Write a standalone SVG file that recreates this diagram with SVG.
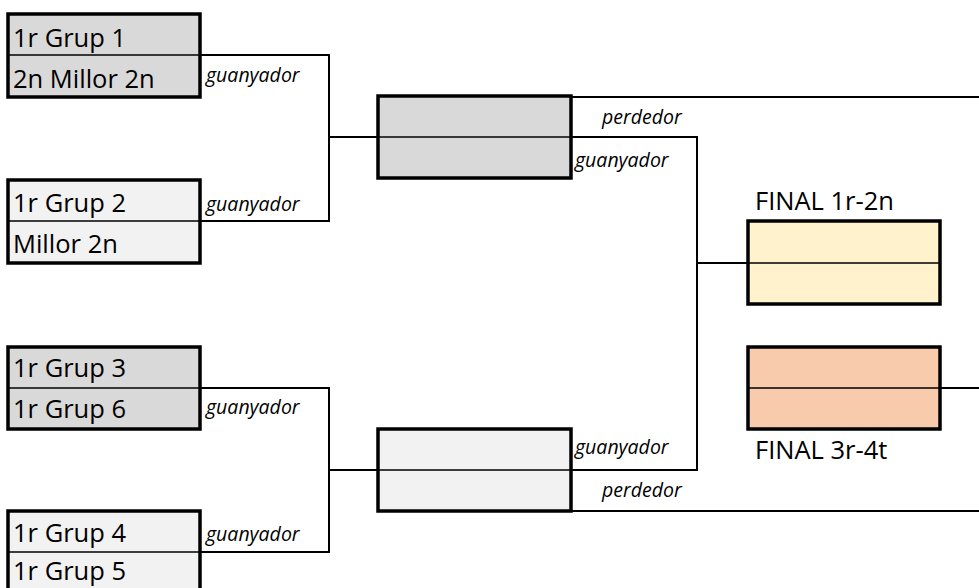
<svg xmlns="http://www.w3.org/2000/svg" width="979" height="588" viewBox="0 0 979 588">
<style>
.box{stroke:#000;stroke-width:3.5}
.div{stroke:#000;stroke-width:1.5}
.g1{fill:#D9D9D9}.g2{fill:#F2F2F2}.y{fill:#FFF2CC}.o{fill:#F8CBAD}
.lbl{font-family:"Open Sans","Liberation Sans",sans-serif;font-size:25.5px;fill:#000}
.it{font-family:"Open Sans","Liberation Sans",sans-serif;font-size:19.5px;font-style:italic;fill:#000}
.conn{fill:none;stroke:#000;stroke-width:2}
</style>
<rect width="979" height="588" fill="#fff"/>
<g id="connectors">
<path class="conn" d="M200,55H329V221H200"/>
<path class="conn" d="M329,137H378"/>
<path class="conn" d="M571,137H697V470H571"/>
<path class="conn" d="M571,97H979"/>
<path class="conn" d="M697,263H748"/>
<path class="conn" d="M940,388H979"/>
<path class="conn" d="M200,388H329V552H200"/>
<path class="conn" d="M329,470H378"/>
<path class="conn" d="M571,511H979"/>
<text class="it" x="206" y="82">guanyador</text>
<text class="it" x="206" y="211">guanyador</text>
<text class="it" x="206" y="414">guanyador</text>
<text class="it" x="206" y="541">guanyador</text>
<text class="it" x="602" y="124">perdedor</text>
<text class="it" x="575" y="167">guanyador</text>
<text class="it" x="575" y="454">guanyador</text>
<text class="it" x="602" y="497">perdedor</text>
</g>
<g id="m1">
<rect class="box g1" x="8" y="14" width="192" height="83"/>
<line class="div" x1="8" y1="55" x2="200" y2="55"/>
<text class="lbl" x="13" y="47">1r Grup 1</text>
<text class="lbl" x="13" y="88">2n Millor 2n</text>
</g>
<g id="m2">
<rect class="box g2" x="8" y="180" width="192" height="83"/>
<line class="div" x1="8" y1="221" x2="200" y2="221"/>
<text class="lbl" x="13" y="212">1r Grup 2</text>
<text class="lbl" x="13" y="253">Millor 2n</text>
</g>
<g id="m3">
<rect class="box g1" x="8" y="347" width="192" height="82"/>
<line class="div" x1="8" y1="388" x2="200" y2="388"/>
<text class="lbl" x="13" y="377">1r Grup 3</text>
<text class="lbl" x="13" y="418">1r Grup 6</text>
</g>
<g id="m4">
<rect class="box g2" x="8" y="511" width="192" height="83"/>
<line class="div" x1="8" y1="552" x2="200" y2="552"/>
<text class="lbl" x="13" y="542">1r Grup 4</text>
<text class="lbl" x="13" y="580">1r Grup 5</text>
</g>
<g id="semi1">
<rect class="box g1" x="378" y="96" width="193" height="82"/>
<line class="div" x1="378" y1="137" x2="571" y2="137"/>
</g>
<g id="semi2">
<rect class="box g2" x="378" y="429" width="193" height="82"/>
<line class="div" x1="378" y1="470" x2="571" y2="470"/>
</g>
<g id="final12">
<text class="lbl" x="755" y="210">FINAL 1r-2n</text>
<rect class="box y" x="748" y="221" width="192" height="83"/>
<line class="div" x1="748" y1="263" x2="940" y2="263"/>
</g>
<g id="final34">
<rect class="box o" x="748" y="347" width="192" height="82"/>
<line class="div" x1="748" y1="388" x2="940" y2="388"/>
<text class="lbl" x="755" y="459">FINAL 3r-4t</text>
</g>
</svg>
